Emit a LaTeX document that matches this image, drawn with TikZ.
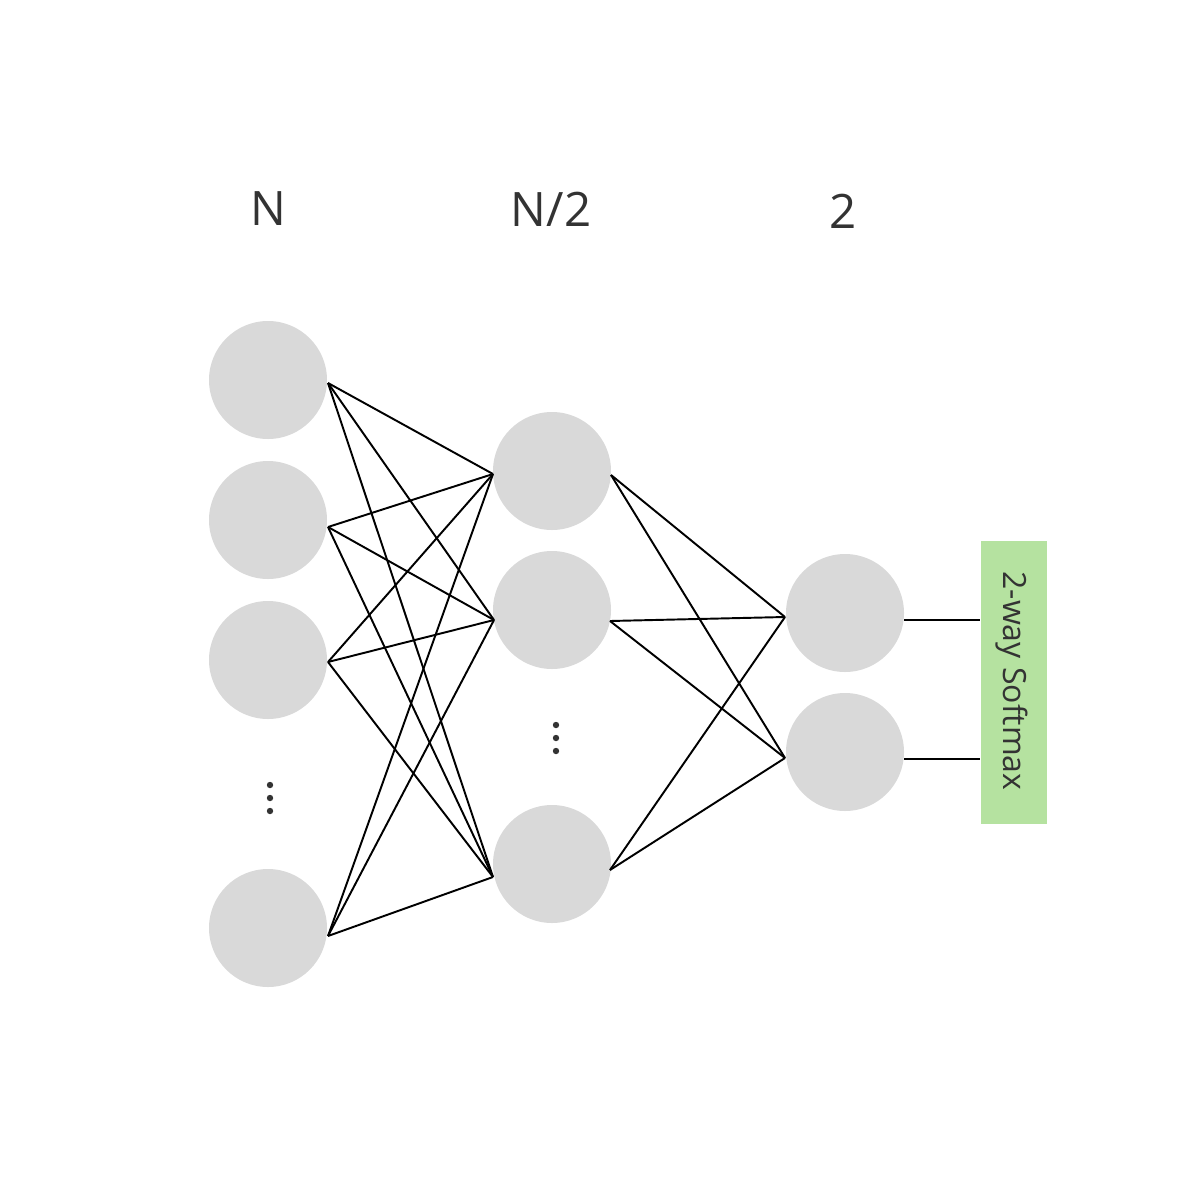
\documentclass[tikz,border=0pt]{standalone}
\usepackage{fontspec}
\setmainfont{Open Sans}
\definecolor{nodegray}{HTML}{D9D9D9}
\definecolor{boxgreen}{HTML}{B5E2A0}
\definecolor{txt}{HTML}{333333}
\begin{document}
\begin{tikzpicture}[x=0.01cm,y=-0.01cm,
  neuron/.style={circle,fill=nodegray,minimum size=118*0.01cm,inner sep=0pt},
  conn/.style={line width=0.55pt,black},
  lbl/.style={text=txt,font=\fontsize{13.5pt}{16pt}\selectfont},
  dotc/.style={fill=txt,draw=none}]
\useasboundingbox (0,0) rectangle (1200,1200);
% layer labels
\node[lbl] (lN) at (268,209) {N};
\node[lbl] (lN2) at (551,209) {N/2};
\node[lbl] (l2) at (843,211) {2};
% layer 1
\node[neuron] (n1) at (268,380) {};
\node[neuron] (n2) at (268,520) {};
\node[neuron] (n3) at (268,660) {};
\node[neuron] (n4) at (268,928) {};
% layer 2
\node[neuron] (m1) at (552,471) {};
\node[neuron] (m2) at (552,610) {};
\node[neuron] (m3) at (552,864) {};
% layer 3
\node[neuron] (o1) at (845,613) {};
\node[neuron] (o2) at (845,752) {};
% softmax box
\node[fill=boxgreen,minimum width=66*0.01cm,minimum height=283*0.01cm,inner sep=0pt,anchor=north west] (box) at (980,540) {};
\node[text=txt,font=\fontsize{9.1pt}{10pt}\selectfont,rotate=-90] (boxt) at (1012,681) {2-way Softmax};
% dots
\foreach \y in {785,798,811} \fill[dotc] (270,\y) circle (3.2);
\foreach \y in {725,738,751} \fill[dotc] (556,\y) circle (3.2);
% connection points
\coordinate (a1) at (328,383);
\coordinate (a2) at (328,527);
\coordinate (a3) at (328,662);
\coordinate (a4) at (328,936);
\coordinate (b1) at (493,474);
\coordinate (b2) at (494,620);
\coordinate (b3) at (493,877);
\coordinate (c1) at (611,475);
\coordinate (c2) at (610,621);
\coordinate (c3) at (610,870);
\coordinate (d1) at (785,617);
\coordinate (d2) at (785,758);
\coordinate (e1) at (904,620);
\coordinate (e2) at (904,759);
% connectors layer1 -> layer2
\foreach \a in {a1,a2,a3,a4}
  \foreach \b in {b1,b2,b3}
    \draw[conn] (\a) -- (\b);
% layer2 -> layer3
\foreach \c in {c1,c2,c3}
  \foreach \d in {d1,d2}
    \draw[conn] (\c) -- (\d);
% layer3 -> box
\draw[conn] (e1) -- (box.west |- e1);
\draw[conn] (e2) -- (box.west |- e2);
\end{tikzpicture}
\end{document}
